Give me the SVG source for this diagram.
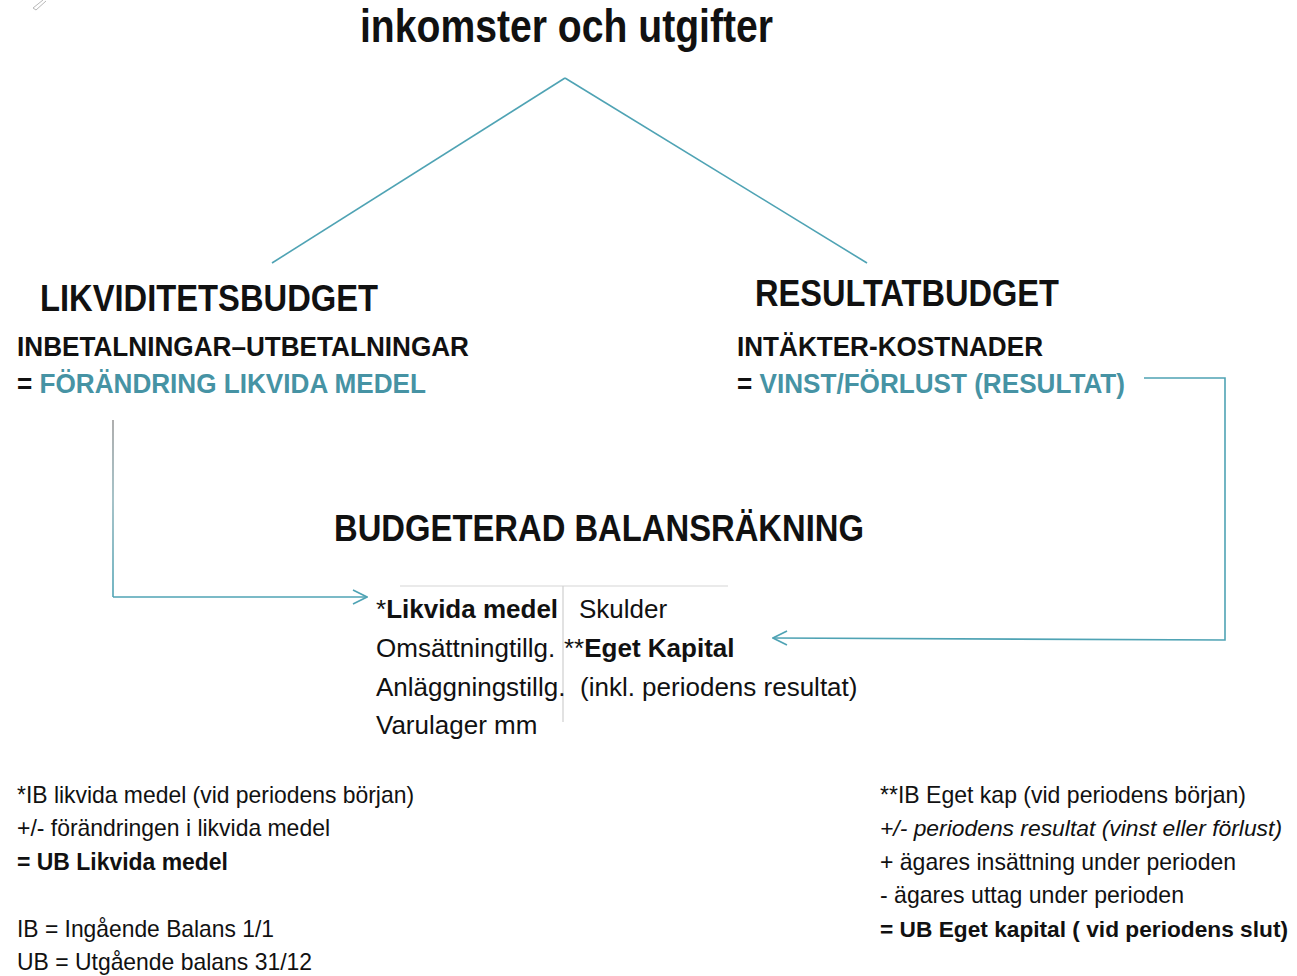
<svg xmlns="http://www.w3.org/2000/svg" width="1297" height="976" viewBox="0 0 1297 976">
<style>
text{font-family:"Liberation Sans",Arial,Helvetica,sans-serif;fill:#111}
.h{font-weight:bold}
.teal{fill:#4693a4}
.b{font-weight:bold}
.t26{font-size:26px}
.t24{font-size:24px}
.conn{fill:none;stroke:#4fa3b4;stroke-width:1.6}
</style>
<defs>
<marker id="arr" viewBox="0 0 16 16" refX="15" refY="8" markerWidth="16" markerHeight="16" markerUnits="userSpaceOnUse" orient="auto">
<path d="M1,1 L15,8 L1,15" fill="none" stroke="#4fa3b4" stroke-width="1.6"/>
</marker>
<linearGradient id="gv" x1="0" y1="420" x2="0" y2="597" gradientUnits="userSpaceOnUse">
<stop offset="0" stop-color="#9a9a9a"/>
<stop offset="0.45" stop-color="#8fb3ba"/>
<stop offset="1" stop-color="#4fa3b4"/>
</linearGradient>
</defs>
<rect width="1297" height="976" fill="#ffffff"/>

<g id="corner-mark">
<path d="M33,8 L43,0 M36,10 L46,1 M33,8 L36,10" fill="none" stroke="#b8b8b8" stroke-width="1"/>
</g>

<g id="title">
<text class="h" x="360" y="42" font-size="46" textLength="413" lengthAdjust="spacingAndGlyphs">inkomster och utgifter</text>
</g>

<g id="connectors">
<path class="conn" d="M565,78 L272,263"/>
<path class="conn" d="M565,78 L867,263"/>
<path d="M113,420 L113,597" fill="none" stroke="url(#gv)" stroke-width="1.6"/>
<path class="conn" d="M113,597 L367,597" marker-end="url(#arr)"/>
<path class="conn" d="M1144,378 L1225,378 L1225,640 L773,638" marker-end="url(#arr)"/>
</g>

<g id="likviditetsbudget">
<text class="h" x="40" y="311" font-size="36" textLength="338" lengthAdjust="spacingAndGlyphs">LIKVIDITETSBUDGET</text>
<text class="h" x="17" y="356" font-size="27" textLength="452" lengthAdjust="spacingAndGlyphs">INBETALNINGAR–UTBETALNINGAR</text>
<text class="h" x="17" y="393" font-size="27" textLength="409" lengthAdjust="spacingAndGlyphs">= <tspan class="teal">FÖRÄNDRING LIKVIDA MEDEL</tspan></text>
</g>

<g id="resultatbudget">
<text class="h" x="755" y="306" font-size="37" textLength="304" lengthAdjust="spacingAndGlyphs">RESULTATBUDGET</text>
<text class="h" x="737" y="356" font-size="27" textLength="306" lengthAdjust="spacingAndGlyphs">INTÄKTER-KOSTNADER</text>
<text class="h" x="737" y="393" font-size="27" textLength="388" lengthAdjust="spacingAndGlyphs">= <tspan class="teal">VINST/FÖRLUST (RESULTAT)</tspan></text>
</g>

<g id="balansrakning">
<text class="h" x="334" y="541" font-size="37" textLength="530" lengthAdjust="spacingAndGlyphs">BUDGETERAD BALANSRÄKNING</text>
<line x1="400" y1="586" x2="728" y2="586" stroke="#d6d6d6" stroke-width="1.2"/>
<line x1="563" y1="586" x2="563" y2="722" stroke="#cfcfcf" stroke-width="1.2"/>
<text class="t26" x="376" y="618">*<tspan class="b">Likvida medel</tspan></text>
<text class="t26" x="579" y="618">Skulder</text>
<text class="t26" x="376" y="657">Omsättningtillg.</text>
<text class="t26" x="564" y="657">**<tspan class="b">Eget Kapital</tspan></text>
<text class="t26" x="376" y="696">Anläggningstillg.</text>
<text class="t26" x="580" y="696">(inkl. periodens resultat)</text>
<text class="t26" x="376" y="734">Varulager mm</text>
</g>

<g id="note-left">
<text class="t24" x="17" y="803" textLength="397" lengthAdjust="spacingAndGlyphs">*IB likvida medel (vid periodens början)</text>
<text class="t24" x="17" y="836" textLength="313" lengthAdjust="spacingAndGlyphs">+/- förändringen i likvida medel</text>
<text class="t24 b" x="17" y="870" textLength="211" lengthAdjust="spacingAndGlyphs">= UB Likvida medel</text>
<text class="t24" x="17" y="937" textLength="257" lengthAdjust="spacingAndGlyphs">IB = Ingående Balans 1/1</text>
<text class="t24" x="17" y="970" textLength="295" lengthAdjust="spacingAndGlyphs">UB = Utgående balans 31/12</text>
</g>

<g id="note-right">
<text class="t24" x="880" y="803" textLength="366" lengthAdjust="spacingAndGlyphs">**IB Eget kap (vid periodens början)</text>
<text x="880" y="836" font-size="22.5" font-style="italic" textLength="402" lengthAdjust="spacingAndGlyphs">+/- periodens resultat (vinst eller förlust)</text>
<text class="t24" x="880" y="870" textLength="356" lengthAdjust="spacingAndGlyphs">+ ägares insättning under perioden</text>
<text class="t24" x="880" y="903" textLength="304" lengthAdjust="spacingAndGlyphs">- ägares uttag under perioden</text>
<text class="b" x="880" y="937" font-size="22" textLength="408" lengthAdjust="spacingAndGlyphs">= UB Eget kapital ( vid periodens slut)</text>
</g>
</svg>
